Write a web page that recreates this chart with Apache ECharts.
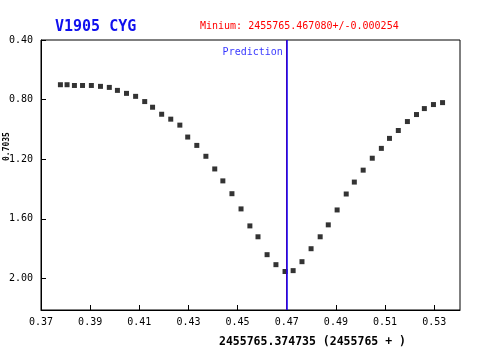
<!DOCTYPE html>
<html><head><meta charset="utf-8">
<script src="https://cdn.jsdelivr.net/npm/echarts@6/dist/echarts.min.js"></script>
<style>html,body{margin:0;padding:0;background:#fff}#c{width:500px;height:350px}</style>
</head><body><div id="c"></div>
<script>
const xValues = [0.3779,0.3806,0.3836,0.3869,0.3905,0.3942,0.3978,0.4011,0.4048,0.4085,
  0.4122,0.4154,0.4191,0.4228,0.4265,0.4297,0.4334,0.4371,0.4407,0.4440,
  0.4477,0.4514,0.4550,0.4583,0.4620,0.4656,0.4693,0.4726,0.4762,0.4799,
  0.4836,0.4869,0.4905,0.4942,0.4975,0.5011,0.5048,0.5085,0.5118,0.5154,
  0.5191,0.5228,0.5260,0.5297,0.5334];
const magValues = [0.700,0.700,0.705,0.705,0.705,0.711,0.718,0.738,0.758,0.778,
  0.813,0.851,0.898,0.931,0.971,1.051,1.107,1.180,1.265,1.345,
  1.431,1.533,1.647,1.720,1.840,1.907,1.953,1.947,1.887,1.800,
  1.720,1.640,1.540,1.433,1.353,1.273,1.193,1.127,1.060,1.007,
  0.947,0.900,0.860,0.833,0.820];
const minimumX = [0.47035];
const predictionX = [0.4711];
const predictionLabelY = [0.48];
const titleText = 'V1905 CYG';
const subText = 'Minium: 2455765.467080+/-0.000254';
const xName = '2455765.374735 (2455765 + )';
const yName = '0.7035';

const font = 'DejaVu Sans Mono';
const chart = echarts.init(document.getElementById('c'), null, {renderer:'canvas'});
chart.setOption({
  animation:false,
  backgroundColor:'#fff',
  title:[
    {text:titleText, left:55, top:20, padding:0, textStyle:{fontFamily:font, fontSize:15, fontWeight:'bold', color:'#1010ee'}},
    {text:subText, left:200, top:21, padding:0, textStyle:{fontFamily:font, fontSize:10, fontWeight:'normal', color:'#ff0000'}}
  ],
  grid:{left:41, right:40, top:40, bottom:40, show:true, borderColor:'#000', borderWidth:1, backgroundColor:'transparent'},
  xAxis:{type:'value', min:0.37, max:0.5405, interval:0.02,
    axisLine:{lineStyle:{color:'#000'}},
    axisTick:{inside:true, length:5, lineStyle:{color:'#000'}},
    splitLine:{show:false},
    axisLabel:{fontFamily:font, fontSize:10, color:'#000', margin:7, showMaxLabel:false,
      formatter:v=>v.toFixed(2)}},
  yAxis:{type:'value', inverse:true, min:0.4, max:2.2111, interval:0.4,
    axisLine:{lineStyle:{color:'#000'}},
    axisTick:{inside:true, length:5, lineStyle:{color:'#000'}},
    splitLine:{show:false},
    axisLabel:{fontFamily:font, fontSize:10, color:'#000', margin:8, showMaxLabel:false,
      formatter:v=>v.toFixed(2)}},
  graphic:[
    {type:'text', left:219, top:336, style:{text:xName, font:'bold 11.5px "DejaVu Sans Mono"', fill:'#000'}},
    {type:'text', x:3, y:161, rotation:Math.PI/2, style:{text:yName, font:'bold 8px "DejaVu Sans Mono"', fill:'#000'}}
  ],
  series:[
    {type:'scatter', data:xValues.map((x,i)=>[x, magValues[i]]), symbol:'rect', symbolSize:5,
      itemStyle:{color:'#000'},
      markLine:{silent:true, symbol:'none', label:{show:false},
        data:[
          {xAxis:minimumX[0], lineStyle:{color:'#ff0000', width:1, type:'solid'}},
          {xAxis:predictionX[0], lineStyle:{color:'#0000ff', width:1.5, type:'solid'}}
        ]}},
    {type:'scatter', data:[[predictionX[0]-0.0027, predictionLabelY[0]]], symbolSize:0,
      label:{show:true, position:'left', distance:0, formatter:'Prediction', fontFamily:font, fontSize:10, color:'#0000ff'}}
  ]
});
</script></body></html>
